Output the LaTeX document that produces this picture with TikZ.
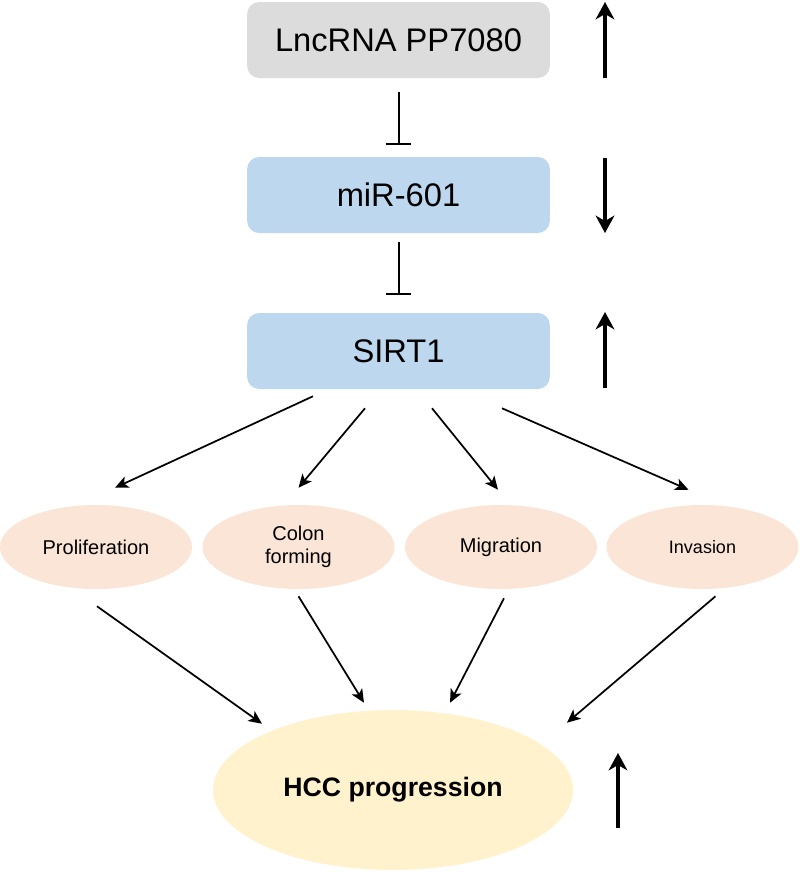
\documentclass[tikz,border=0pt]{standalone}
\usepackage{fontspec}
\setmainfont{Liberation Sans}
\usetikzlibrary{arrows.meta,shapes.geometric}

\definecolor{lncgray}{HTML}{DCDCDC}
\definecolor{mirblue}{HTML}{BDD7EE}
\definecolor{peach}{HTML}{FBE5D6}
\definecolor{hccyellow}{HTML}{FFF2CC}

\begin{document}
\begin{tikzpicture}[x=0.75pt, y=-0.75pt,
    genebox/.style={rectangle, rounded corners=9pt, minimum width=227pt, minimum height=57pt, inner sep=0pt, font=\fontsize{24.5}{28}\selectfont},
    effect/.style={ellipse, fill=peach, minimum width=144pt, minimum height=63pt, inner sep=0pt, align=center, font=\fontsize{15}{17}\selectfont},
    inhibit/.style={-{Bar[width=19pt]}, line width=1.5pt},
    level/.style={-{Stealth[length=13pt,width=14pt,inset=4pt]}, line width=2.3pt},
    link/.style={-{Stealth[length=10pt,width=9pt,inset=2.5pt]}, line width=1.3pt}]

  \useasboundingbox (0,0) rectangle (800,872);

  % Regulation axis
  \node[genebox, fill=lncgray] (lnc) at (398.5,40) {LncRNA PP7080};
  \node[genebox, fill=mirblue] (mir) at (398.5,195) {miR-601};
  \node[genebox, fill=mirblue] (sirt) at (398.5,351) {SIRT1};

  \draw[inhibit, shorten <=10.5pt, shorten >=9pt] (lnc.south) -- (mir.north);
  \draw[inhibit, shorten <=6.75pt, shorten >=13.5pt] (mir.south) -- (sirt.north);

  % Expression changes
  \coordinate (lncup0) at (605,78);
  \coordinate (lncup1) at (605,2);
  \coordinate (mirdown0) at (605,158);
  \coordinate (mirdown1) at (605,233);
  \coordinate (sirtup0) at (605,388);
  \coordinate (sirtup1) at (605,312);
  \draw[level] (lncup0) -- (lncup1);
  \draw[level] (mirdown0) -- (mirdown1);
  \draw[level] (sirtup0) -- (sirtup1);

  % Cellular effects
  \node[effect] (prol) at (96,547) {Proliferation};
  \node[effect] (colon) at (298.5,547) {Colon\\forming};
  \node[effect] (migr) at (501,547) {Migration};
  \node[effect, font=\fontsize{13.5}{16}\selectfont] (inv) at (702.5,547) {Invasion};

  \draw[link] ([shift={(-85.5,7)}]sirt.south) -- ([shift={(19,-17)}]prol.north);
  \draw[link] ([shift={(-33.5,19)}]sirt.south) -- ([shift={(0,-17)}]colon.north);
  \draw[link] ([shift={(33.5,19)}]sirt.south) -- ([shift={(-3,-15)}]migr.north);
  \draw[link] ([shift={(103.5,19)}]sirt.south) -- ([shift={(-14,-15)}]inv.north);

  % Outcome
  \node[ellipse, fill=hccyellow, minimum width=270pt, minimum height=120pt, inner sep=0pt,
        font=\fontsize{20}{24}\selectfont\bfseries] (hcc) at (393,790) {HCC progression};

  \draw[link] ([shift={(1,17)}]prol.south) -- ([shift={(-131,14)}]hcc.north);
  \draw[link] ([shift={(0,7)}]colon.south) -- ([shift={(-29,-7)}]hcc.north);
  \draw[link] ([shift={(3,9)}]migr.south) -- ([shift={(57,-7)}]hcc.north);
  \draw[link] ([shift={(13,7)}]inv.south) -- ([shift={(174,13)}]hcc.north);

  \coordinate (hccup0) at (618,828);
  \coordinate (hccup1) at (618,753);
  \draw[level] (hccup0) -- (hccup1);

\end{tikzpicture}
\end{document}
